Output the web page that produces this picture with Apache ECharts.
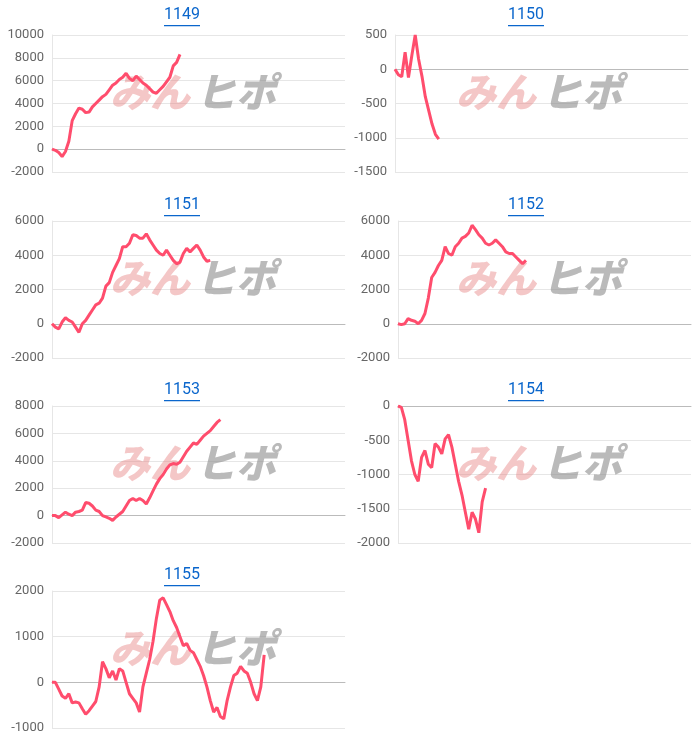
<!DOCTYPE html>
<html>
<head>
<meta charset="utf-8">
<script src="https://cdn.jsdelivr.net/npm/echarts@6/dist/echarts.min.js"></script>
<style>
  html, body { margin: 0; padding: 0; background: #fff; }
  #chart { width: 700px; height: 744px; }
</style>
</head>
<body>
<div id="chart"></div>
<script>
// 台番号ごとの差枚推移
const titles = ["1149", "1150", "1151", "1152", "1153", "1154", "1155"];
const slots = 88; // x軸のゲーム数（固定幅）

const d1149 = [0,-100,-300,-650,-200,700,2500,3100,3600,3500,3200,3250,3700,4000,4300,4600,4800,5200,5600,5800,6100,6300,6650,6200,6000,6400,6100,5800,5600,5300,5000,4900,5200,5500,5900,6300,7300,7600,8300];
const d1150 = [0,-80,-110,250,-120,200,500,150,-100,-400,-600,-800,-950,-1020];
const d1151 = [0,-200,-300,100,350,200,100,-200,-500,0,200,500,800,1100,1200,1500,2200,2400,3000,3400,3800,4500,4500,4700,5200,5150,5000,5000,5250,4900,4600,4300,4100,4000,4300,4000,3700,3500,3600,4100,4400,4200,4400,4600,4300,3900,3650,3700];
const d1152 = [0,-50,0,300,200,150,0,200,600,1500,2700,3000,3400,3700,4500,4100,4000,4500,4700,5000,5100,5300,5750,5500,5200,5000,4700,4600,4700,4900,4700,4500,4200,4100,4100,3900,3700,3500,3700];
const d1153 = [0,0,-150,50,250,100,0,250,300,400,950,900,700,400,300,0,-100,-200,-350,-100,100,300,700,1100,1250,1100,1250,1100,850,1300,1800,2300,2700,3000,3400,3700,3800,3750,3900,4300,4700,5000,5300,5200,5500,5800,6000,6200,6500,6800,7000];
const d1154 = [0,-20,-200,-500,-800,-1000,-1100,-750,-650,-850,-900,-550,-600,-700,-480,-420,-600,-850,-1100,-1300,-1550,-1800,-1550,-1650,-1850,-1400,-1200];
const d1155 = [0,0,-150,-300,-350,-250,-450,-430,-450,-580,-700,-620,-520,-420,-100,450,300,100,250,50,300,250,0,-250,-350,-450,-650,-100,200,500,900,1400,1800,1850,1700,1550,1350,1200,1000,800,850,700,650,500,350,150,-100,-400,-650,-550,-750,-800,-400,-100,150,200,350,250,200,0,-250,-400,-100,600];

const seriesData = [d1149, d1150, d1151, d1152, d1153, d1154, d1155];
const yMin = [-2000, -1500, -2000, -2000, -2000, -2000, -1000];
const yMax = [10000, 500, 6000, 6000, 8000, 0, 2000];
const yStep = [2000, 500, 2000, 2000, 2000, 500, 1000];

const categories = [];
for (let i = 0; i < slots; i++) categories.push(String(i + 1));

const rowTop = [0, 190, 375, 560];
const colLeft = [52, 398];
const plotW = 293;

const grids = [], xAxes = [], yAxes = [], series = [], graphics = [];
for (let k = 0; k < titles.length; k++) {
    const row = Math.floor(k / 2), col = k % 2;
    const top = rowTop[row] + (row === 0 ? 35 : 31);
    const left = colLeft[col] - (k === 1 ? 3 : 0);
    grids.push({ left: left, width: plotW, top: top, height: 137 });
    xAxes.push({
        type: 'category', gridIndex: k, data: categories, boundaryGap: false,
        axisTick: { show: false }, axisLabel: { show: false },
        axisLine: { onZero: true, lineStyle: { color: '#bbbbbb' } }
    });
    yAxes.push({
        type: 'value', gridIndex: k, min: yMin[k], max: yMax[k], interval: yStep[k],
        axisLine: { show: true, lineStyle: { color: '#e6e6e6' } },
        axisTick: { show: false },
        axisLabel: { color: '#666', fontSize: 13, fontFamily: 'Roboto, sans-serif', formatter: v => String(v) },
        splitLine: { lineStyle: { color: '#e6e6e6' } }
    });
    series.push({
        type: 'line', xAxisIndex: k, yAxisIndex: k, data: seriesData[k],
        showSymbol: false, smooth: false,
        lineStyle: { color: '#ff4d6d', width: 3 }, z: 3
    });
    // タイトル（リンク風）
    const cx = col === 0 ? 182 : 526;
    graphics.push({
        type: 'text', x: cx, y: rowTop[row] + 7,
        style: { text: titles[k], fill: '#0a66cc', font: '16px Roboto, sans-serif', textAlign: 'center' }
    });
    graphics.push({
        type: 'rect', shape: { x: cx - 18, y: rowTop[row] + 25, width: 36, height: 1.3 },
        style: { fill: '#0a66cc' }
    });
    // ウォーターマーク
    const wx = col === 0 ? 110 : 456;
    const wy = rowTop[row] + (row === 0 ? 72 : 68);
    graphics.push({
        type: 'text', x: wx, y: wy, z: 1,
        style: { text: 'みん', fill: 'rgba(230,130,130,0.45)', font: 'italic 900 40px "Noto Sans CJK JP"' }
    });
    graphics.push({
        type: 'text', x: wx + 86, y: wy, z: 1,
        style: { text: 'ヒポ', fill: 'rgba(140,140,140,0.6)', font: 'italic 900 40px "Noto Sans CJK JP"' }
    });
}

const myChart = echarts.init(document.getElementById('chart'));
myChart.setOption({
    animation: false,
    grid: grids, xAxis: xAxes, yAxis: yAxes, series: series, graphic: graphics
});
</script>
</body>
</html>
